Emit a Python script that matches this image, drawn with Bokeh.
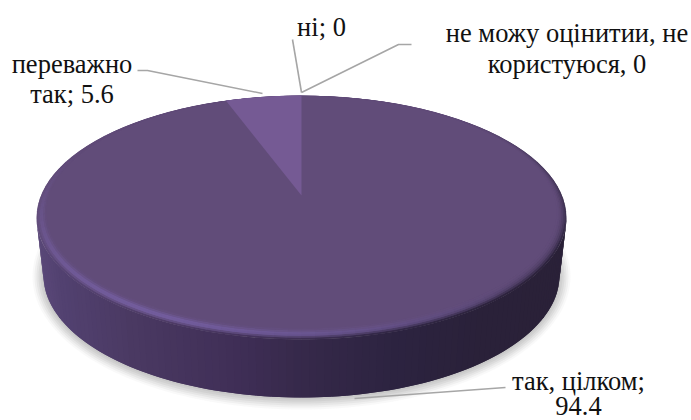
import numpy as np
from bokeh.plotting import figure
from bokeh.models import Range1d
from bokeh.core.properties import value
from bokeh.embed import file_html
from bokeh.resources import INLINE

# data
categories = ["так, цілком", "переважно так", "ні", "не можу оцінитии, не користуюся"]
values = [94.4, 5.6, 0, 0]
label_lines = [
    ["так, цілком;", "94.4"],
    ["переважно", "так; 5.6"],
    ["ні; 0"],
    ["не можу оцінитии, не", "користуюся, 0"],
]
label_x = [578, 71.5, 321, 566.5]
label_y = [380, 63, 26, 32]
label_step = [25, 30, 0, 31]

leader_x = [[354, 505], [262, 147, 137], [301, 292], [301, 398, 411]]
leader_y = [[398, 387], [93, 70, 70], [92, 39], [92, 44, 44]]

# layout
W, H = 691, 420
cx, cy, rx, ry = 301, 217, 265, 122
cx2, cy2, rx2, ry2 = 301, 275, 258, 122
icy, irx, iry = 212, 255, 116
apex_y = 195

top_col = np.array([0x61, 0x4C, 0x79], float)
slice_col = "#755A94"
hl_col = np.array([0x72, 0x5C, 0x9C], float)
dk_col = np.array([0x2E, 0x25, 0x40], float)
rim_stop_x = [36, 60, 130, 240, 300, 400, 480, 566]
rim_stop_r = [0x5A, 0x52, 0x4A, 0x3F, 0x36, 0x2C, 0x2A, 0x2A]
rim_stop_g = [0x48, 0x41, 0x39, 0x2E, 0x29, 0x23, 0x21, 0x21]
rim_stop_b = [0x78, 0x70, 0x62, 0x56, 0x4A, 0x40, 0x39, 0x38]


def hexc(c):
    c = np.clip(np.round(c), 0, 255).astype(int)
    return "#%02x%02x%02x" % tuple(c)


def rim_color(x):
    return np.array([np.interp(x, rim_stop_x, rim_stop_r),
                     np.interp(x, rim_stop_x, rim_stop_g),
                     np.interp(x, rim_stop_x, rim_stop_b)])


p = figure(width=W, height=H, x_range=Range1d(0, W), y_range=Range1d(H, 0),
           toolbar_location=None, output_backend="svg", min_border=0,
           outline_line_color=None, background_fill_color="white", border_fill_color="white")
p.axis.visible = False
p.grid.visible = False

# shadow
ts = np.linspace(0, 2 * np.pi, 181)
for grow, alpha in [(11, .05), (9, .07), (7, .09), (5, .1), (3, .1), (1, .1)]:
    p.patch(cx2 + (rx2 + grow) * np.cos(ts), cy2 + 1 + (ry2 + grow) * np.sin(ts),
            fill_color="#808080", fill_alpha=alpha, line_color=None)

# rim strips, each overlapping the next so that no seams show
phi = np.linspace(np.pi, 0, 109)
xs, ys, cols = [], [], []
for i in range(len(phi) - 1):
    a, b = phi[i], phi[min(i + 2, len(phi) - 1)]
    xs.append([cx + rx * np.cos(a), cx + rx * np.cos(b), cx2 + rx2 * np.cos(b), cx2 + rx2 * np.cos(a)])
    ys.append([cy + ry * np.sin(a), cy + ry * np.sin(b), cy2 + ry2 * np.sin(b), cy2 + ry2 * np.sin(a)])
    cols.append(hexc(rim_color(cx + rx * np.cos((phi[i] + phi[i + 1]) / 2))))
p.patches(xs, ys, fill_color=cols, line_color=None)

# bevel mesh, drawn from the outer ring inwards with overlap
angles = np.linspace(0, 2 * np.pi, 121)
rings = np.linspace(0, 1, 7)
xs, ys, cols = [], [], []
L = np.array([-0.5, 0.85])
R = np.array([0.85, 0.5])


def ring_pt(a, t):
    return (cx + (irx + (rx - irx) * t) * np.cos(a),
            icy + (cy - icy) * t + (iry + (ry - iry) * t) * np.sin(a))


step = angles[1] - angles[0]
for t0, t1 in zip(rings[:-1][::-1], rings[1:][::-1]):
    t = (t0 + t1) / 2
    for a in angles[:-1]:
        b = a + 2 * step
        m = a + step / 2
        n = np.array([np.cos(m), np.sin(m)])
        lit = max(0.0, float(n @ L)) ** 1.2
        dark = max(0.0, float(n @ R))
        c = top_col + (hl_col - top_col) * lit * np.exp(-((t - 0.5) / 0.3) ** 2) * 1.1
        c = c + (dk_col - top_col) * dark * t ** 2
        if np.sin(m) > 0 and t > 0.7:
            f = (t - 0.7) / 0.3 * min(1.0, np.sin(m) * 2.5)
            c = c * (1 - f) + rim_color(cx + rx * np.cos(m)) * f
        p0, p1 = ring_pt(a, 0), ring_pt(b, 0)
        p2, p3 = ring_pt(b, t1), ring_pt(a, t1)
        xs.append([p0[0], p1[0], p2[0], p3[0]])
        ys.append([p0[1], p1[1], p2[1], p3[1]])
        cols.append(hexc(c))
p.patches(xs, ys, fill_color=cols, line_color=None)

# flat top
p.patch(cx + irx * np.cos(ts), icy + iry * np.sin(ts), fill_color=hexc(top_col), line_color=None)

# the slice of the second category, measured counter-clockwise from 12 o'clock
theta = np.radians(np.linspace(0, values[1] / sum(values) * 360, 25))
k = ry / rx
dx, dy = -np.sin(theta), -k * np.cos(theta)
ox, oy = 0.0, apex_y - cy
A = (dx / rx) ** 2 + (dy / ry) ** 2
B = 2 * (ox * dx / rx ** 2 + oy * dy / ry ** 2)
C = (ox / rx) ** 2 + (oy / ry) ** 2 - 1
s = (-B + np.sqrt(B ** 2 - 4 * A * C)) / (2 * A)
sx = np.r_[cx, cx + s * dx]
sy = np.r_[apex_y, apex_y + s * dy]
p.patch(sx, sy, fill_color=slice_col, line_color=None)

# leaders
for lx, ly in zip(leader_x, leader_y):
    p.line(lx, ly, line_color="#a6a6a6", line_width=1.6)

# labels
for lines, x, y, st in zip(label_lines, label_x, label_y, label_step):
    ty = [y + i * st for i in range(len(lines))]
    p.text([x] * len(lines), ty, text=lines, text_font=value("Liberation Serif"),
           text_font_size="26.5px", text_color="#111111", text_align="center", text_baseline="middle")

open("out.html", "w").write(file_html(p, INLINE))
